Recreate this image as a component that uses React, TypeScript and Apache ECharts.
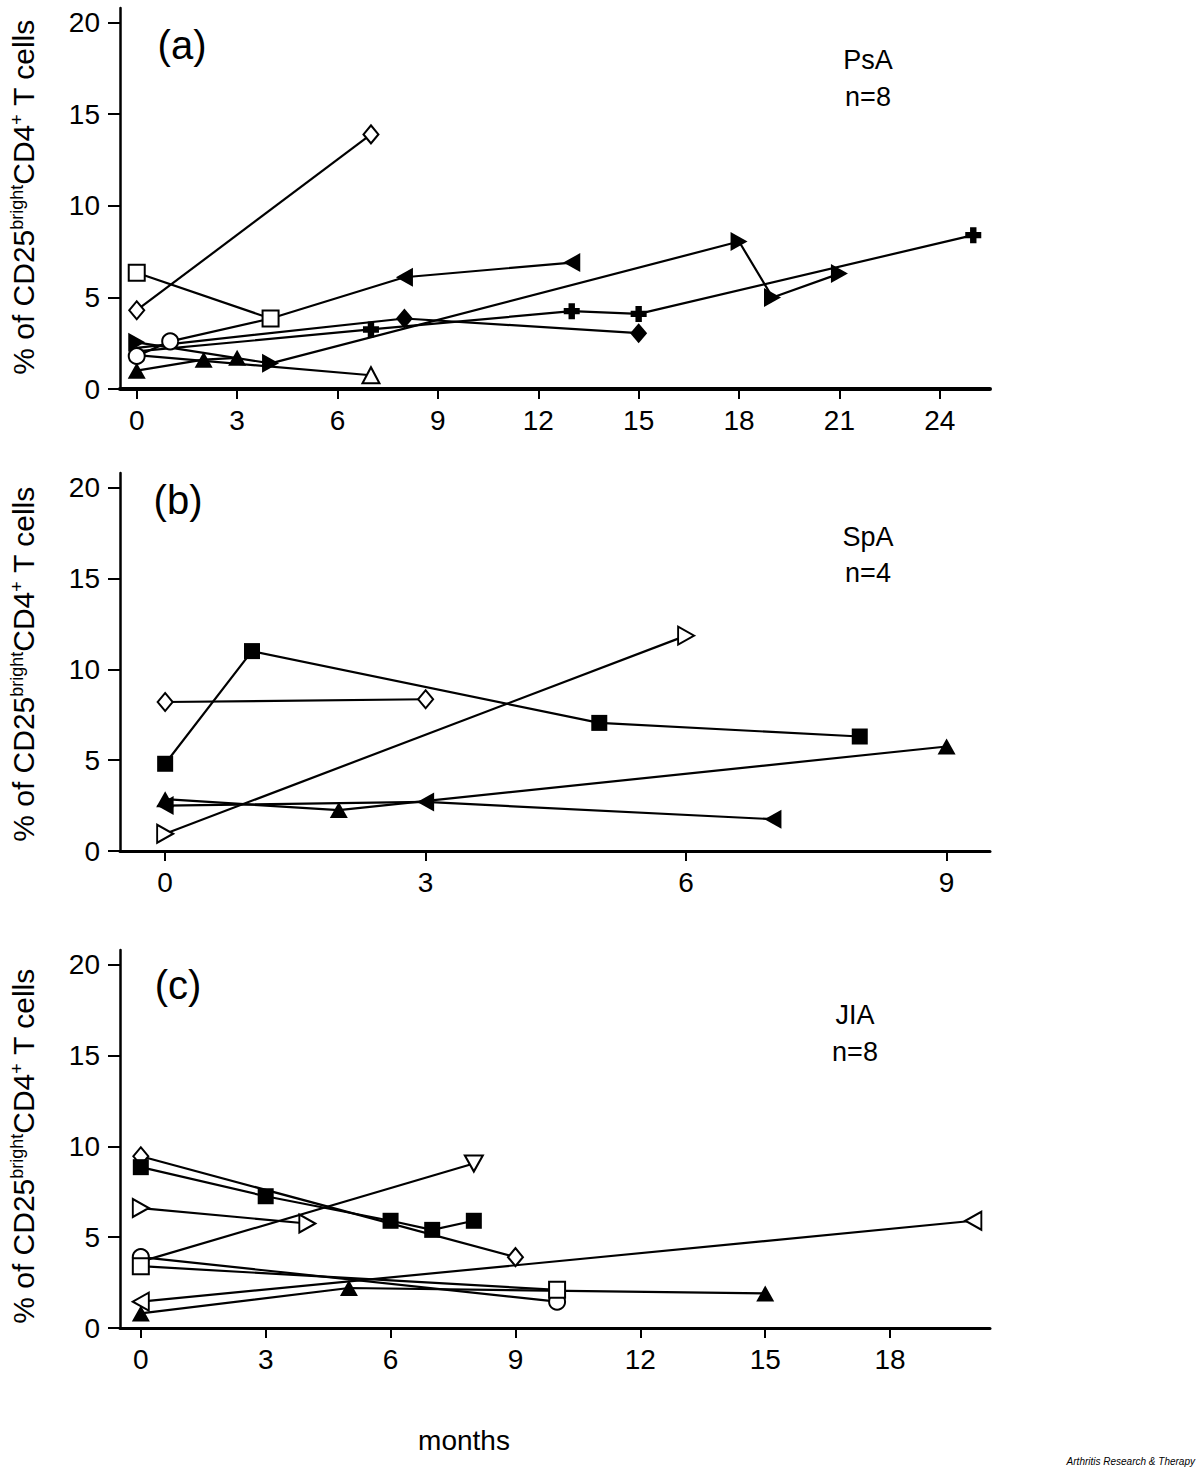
import React, { useEffect, useRef } from "react";
import * as echarts from "echarts";

// ---------- tick values ----------
const yTicks = [0, 5, 10, 15, 20];
const psaTicksX = [0, 3, 6, 9, 12, 15, 18, 21, 24];
const spaTicksX = [0, 3, 6, 9];
const jiaTicksX = [0, 3, 6, 9, 12, 15, 18];

// ---------- (a) PsA: [month, % of CD25bright CD4+ T cells] ----------
const psaDiamondOpen = [[0, 4.3], [7, 13.9]];
const psaSquareOpen = [[0, 6.35], [4, 3.85]];
const psaLeftTriFilled = [[1, 2.6], [4, 3.85], [8, 6.1], [13, 6.9]];
const psaRightTriFilled = [[0, 2.55], [4, 1.4], [18, 8.05], [19, 5.0], [21, 6.3]];
const psaCrossFilled = [[0, 2.05], [7, 3.25], [13, 4.25], [15, 4.1], [25, 8.4]];
const psaDiamondFilled = [[0, 2.25], [8, 3.85], [15, 3.05]];
const psaTriFilled = [[0, 1.0], [2, 1.6], [3, 1.7]];
const psaTriOpen = [[0, 1.85], [7, 0.75]];
const psaCircleOpen = [[0, 1.8], [1, 2.6]];

// ---------- (b) SpA ----------
const spaDiamondOpen = [[0, 8.2], [3, 8.35]];
const spaSquareFilled = [[0, 4.8], [1, 11.0], [5, 7.05], [8, 6.3]];
const spaRightTriOpen = [[0, 0.95], [6, 11.85]];
const spaTriFilled = [[0, 2.85], [2, 2.25], [9, 5.75]];
const spaLeftTriFilled = [[0, 2.5], [3, 2.7], [7, 1.75]];

// ---------- (c) JIA ----------
const jiaDiamondOpen = [[0, 9.45], [9, 3.9]];
const jiaSquareFilled = [[0, 8.85], [3, 7.25], [6, 5.9], [7, 5.4], [8, 5.9]];
const jiaRightTriOpen = [[0, 6.6], [4, 5.75]];
const jiaDownTriOpen = [[0, 3.65], [8, 9.05]];
const jiaCircleOpen = [[0, 3.9], [10, 1.45]];
const jiaSquareOpen = [[0, 3.4], [10, 2.1]];
const jiaLeftTriOpen = [[0, 1.45], [20, 5.9]];
const jiaTriFilled = [[0, 0.8], [5, 2.2], [15, 1.9]];

// patients: data + marker kind; "unmarked" = leading points whose marker is hidden under others
const psaPatients = [
  { data: psaDiamondOpen, marker: "diamondOpen" },
  { data: psaSquareOpen, marker: "squareOpen" },
  { data: psaLeftTriFilled, marker: "leftFilled", unmarked: 2 },
  { data: psaRightTriFilled, marker: "rightFilled" },
  { data: psaCrossFilled, marker: "crossFilled", unmarked: 1 },
  { data: psaDiamondFilled, marker: "diamondFilled", unmarked: 1 },
  { data: psaTriFilled, marker: "triFilled" },
  { data: psaTriOpen, marker: "triOpen", unmarked: 1 },
  { data: psaCircleOpen, marker: "circleOpen" },
];
const spaPatients = [
  { data: spaDiamondOpen, marker: "diamondOpen" },
  { data: spaSquareFilled, marker: "squareFilled" },
  { data: spaRightTriOpen, marker: "rightOpen" },
  { data: spaTriFilled, marker: "triFilled" },
  { data: spaLeftTriFilled, marker: "leftFilled" },
];
const jiaPatients = [
  { data: jiaDiamondOpen, marker: "diamondOpen" },
  { data: jiaSquareFilled, marker: "squareFilled" },
  { data: jiaRightTriOpen, marker: "rightOpen" },
  { data: jiaDownTriOpen, marker: "downOpen", unmarked: 1 },
  { data: jiaCircleOpen, marker: "circleOpen" },
  { data: jiaSquareOpen, marker: "squareOpen" },
  { data: jiaLeftTriOpen, marker: "leftOpen" },
  { data: jiaTriFilled, marker: "triFilled" },
];

const CROSS = "path://M3.6,0H8.4V3.6H12V8.4H8.4V12H3.6V8.4H0V3.6H3.6Z";
const markers: Record<string, any> = {
  diamondOpen: { symbol: "diamond", size: [15, 18], open: true, rotate: 0 },
  diamondFilled: { symbol: "diamond", size: [17, 20], open: false, rotate: 0 },
  squareOpen: { symbol: "rect", size: 16, open: true, rotate: 0 },
  squareFilled: { symbol: "rect", size: 16, open: false, rotate: 0 },
  circleOpen: { symbol: "circle", size: 16, open: true, rotate: 0 },
  triFilled: { symbol: "triangle", size: [18, 16], open: false, rotate: 0 },
  triOpen: { symbol: "triangle", size: [17, 16], open: true, rotate: 0 },
  leftFilled: { symbol: "triangle", size: [19, 17], open: false, rotate: 90 },
  leftOpen: { symbol: "triangle", size: [18, 16], open: true, rotate: 90 },
  rightFilled: { symbol: "triangle", size: [19, 17], open: false, rotate: -90 },
  rightOpen: { symbol: "triangle", size: [18, 16], open: true, rotate: -90 },
  downOpen: { symbol: "triangle", size: [18, 16], open: true, rotate: 180 },
  crossFilled: { symbol: CROSS, size: 16, open: false, rotate: 0 },
};

const FONT = '"Liberation Sans", Arial, Helvetica, sans-serif';

function buildSeries(patients: any[], idx: number) {
  const lines = patients.map((p) => ({
    type: "line",
    xAxisIndex: idx,
    yAxisIndex: idx,
    data: p.data,
    symbol: "none",
    silent: true,
    z: 2,
    lineStyle: { color: "#000", width: 2.2 },
  }));
  const marks = patients.map((p) => {
    const m = markers[p.marker];
    return {
      type: "scatter",
      xAxisIndex: idx,
      yAxisIndex: idx,
      data: p.data.slice(p.unmarked || 0),
      symbol: m.symbol,
      symbolSize: m.size,
      symbolRotate: m.rotate,
      silent: true,
      z: 3,
      itemStyle: {
        color: m.open ? "#fff" : "#000",
        borderColor: "#000",
        borderWidth: m.open ? 2 : 0,
        opacity: 1,
      },
    };
  });
  return [...lines, ...marks];
}

function xAxisOf(idx: number, min: number, max: number, ticks: number[], lw: number) {
  return {
    gridIndex: idx,
    type: "value",
    min,
    max,
    axisLine: { show: true, onZero: false, lineStyle: { color: "#000", width: lw } },
    axisTick: { show: true, length: 10, customValues: ticks, lineStyle: { color: "#000", width: 2 } },
    axisLabel: { customValues: ticks, fontSize: 28, fontFamily: FONT, color: "#000", margin: 17 },
    splitLine: { show: false },
  };
}

function yAxisOf(idx: number) {
  return {
    gridIndex: idx,
    type: "value",
    min: 0,
    max: 20.8,
    axisLine: { show: true, onZero: false, lineStyle: { color: "#000", width: 2.5 } },
    axisTick: { show: true, length: 12, customValues: yTicks, lineStyle: { color: "#000", width: 2 } },
    axisLabel: { customValues: yTicks, fontSize: 28, fontFamily: FONT, color: "#000", margin: 20 },
    splitLine: { show: false },
  };
}

function label(text: string, x: number, y: number, size: number) {
  return {
    type: "text",
    x,
    y,
    silent: true,
    style: {
      text,
      font: `${size}px ${FONT}`,
      fill: "#000",
      align: "center",
      verticalAlign: "middle",
      textAlign: "center",
      textVerticalAlign: "middle",
    },
  };
}

function yTitle(y: number) {
  return {
    type: "text",
    x: 23,
    y,
    rotation: Math.PI / 2,
    silent: true,
    style: {
      text: "{m|% of CD25}{s|bright}{m|CD4}{s|+}{m| T cells}",
      fill: "#000",
      align: "center",
      verticalAlign: "middle",
      textAlign: "center",
      textVerticalAlign: "middle",
      rich: {
        m: { fontSize: 30, fontFamily: FONT, fill: "#000", color: "#000" },
        s: { fontSize: 18, fontFamily: FONT, fill: "#000", color: "#000", verticalAlign: "top" },
      },
    },
  };
}

export default function App() {
  const ref = useRef<HTMLDivElement>(null);
  useEffect(() => {
    document.body.style.margin = "0";
    if (!ref.current) return;
    const chart = echarts.init(ref.current, undefined, { renderer: "svg" });
    chart.setOption({
      animation: false,
      backgroundColor: "#fff",
      grid: [
        { left: 120, top: 8, width: 870, height: 381 },
        { left: 120, top: 473, width: 870, height: 378 },
        { left: 120, top: 950, width: 870, height: 378 },
      ],
      xAxis: [
        xAxisOf(0, -0.5, 25.5, psaTicksX, 4),
        xAxisOf(1, -0.52, 9.5, spaTicksX, 3),
        xAxisOf(2, -0.5, 20.4, jiaTicksX, 3),
      ],
      yAxis: [yAxisOf(0), yAxisOf(1), yAxisOf(2)],
      series: [
        ...buildSeries(psaPatients, 0),
        ...buildSeries(spaPatients, 1),
        ...buildSeries(jiaPatients, 2),
      ],
      graphic: [
        label("(a)", 182, 45, 40),
        label("PsA", 868, 60, 27),
        label("n=8", 868, 97, 27),
        label("(b)", 178, 500, 40),
        label("SpA", 868, 537, 27),
        label("n=4", 868, 573, 27),
        label("(c)", 178, 985, 40),
        label("JIA", 855, 1015, 27),
        label("n=8", 855, 1052, 27),
        label("months", 464, 1440, 28),
        yTitle(197),
        yTitle(664),
        yTitle(1146),
        {
          type: "text",
          x: 1195,
          y: 1461,
          silent: true,
          style: {
            text: "Arthritis Research & Therapy",
            font: `italic 10px ${FONT}`,
            fill: "#000",
            align: "right",
            verticalAlign: "middle",
            textAlign: "right",
            textVerticalAlign: "middle",
          },
        },
      ],
    });
    return () => chart.dispose();
  }, []);
  return <div ref={ref} style={{ width: 1200, height: 1468 }} />;
}
